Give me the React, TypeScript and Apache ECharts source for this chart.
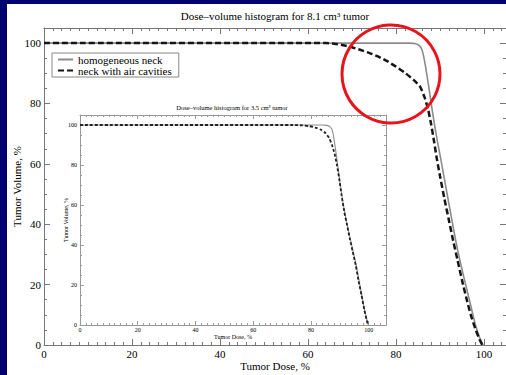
import React, { useEffect, useRef } from "react";
import * as echarts from "echarts";

const mainTitle = "Dose–volume histogram for 8.1 cm³ tumor";
const insetTitle = "Dose–volume histogram for 3.5 cm³ tumor";
const seriesNames = ["homogeneous neck", "neck with air cavities"];
const insetNames = ["homogeneous neck (3.5 cm³)", "neck with air cavities (3.5 cm³)"];
const xAxisName = "Tumor Dose, %";
const yAxisName = "Tumor Volume, %";
const tickLabels = [0, 20, 40, 60, 80, 100];

// Main plot (8.1 cm³ tumor)
const mainDoseHomog = [0, 83, 84, 84.8, 85.4, 85.9, 86.3, 86.8, 87.4, 88, 88.7, 89.4, 90, 91, 92, 93, 94, 95, 96, 97, 98, 99, 99.8];
const mainVolHomog = [100, 100, 99.9, 99.6, 99, 97.8, 95.5, 91.5, 86, 80, 73.5, 67.5, 63, 55, 47, 39, 31.5, 25, 19, 13, 7, 2.5, 0];
const mainDoseAir = [0, 64, 66, 68, 70, 72, 74, 76, 78, 80, 82, 84, 85.5, 86.5, 87.3, 88, 88.7, 89.3, 90, 91, 92, 93, 94, 95, 96, 97, 98, 99, 99.6];
const mainVolAir = [100, 100, 99.8, 99.3, 98.6, 97.7, 96.7, 95.5, 94, 92.2, 90.2, 87.8, 85.5, 82, 78, 73, 67, 61.5, 56, 48.5, 41.5, 34.5, 28, 21.5, 15.5, 10, 5.5, 1.8, 0];

// Inset plot (3.5 cm³ tumor)
const insetDoseHomog = [0, 84, 85.5, 86.5, 87.2, 87.7, 88.2, 88.8, 89.4, 90.1, 90.9, 91.8, 92.8, 93.8, 94.8, 95.8, 96.7, 97.6, 98.6, 99.4, 99.9];
const insetVolHomog = [100, 100, 99.8, 99.2, 98, 95.5, 91, 85, 78.5, 71, 63, 55.5, 48.5, 42, 35.5, 29, 22, 15, 7.5, 2.5, 0];
const insetDoseAir = [0, 74, 77, 79.5, 81.5, 83.5, 85, 86.3, 87.3, 88.2, 89, 89.8, 90.6, 91.5, 92.5, 93.5, 94.5, 95.5, 96.5, 97.5, 98.5, 99.3, 99.8];
const insetVolAir = [100, 100, 99.8, 99.4, 98.7, 97.6, 96, 93.5, 90, 85.5, 80, 73, 65, 57, 50, 43, 36.5, 30, 22, 15, 7.5, 2.5, 0];

const SERIF = '"Liberation Serif", "DejaVu Serif", serif';

const pairs = (xs: number[], ys: number[]) => xs.map((x, i) => [x, ys[i]]);

interface AxOpts {
  max: number;
  major: number;
  minor: number;
  minorInterval: number;
  color: string;
  fontSize: number;
  margin: number;
  nameSize: number;
  nameGap: number;
}

function sideAxes(dim: "x" | "y", gridIndex: number, o: AxOpts) {
  const pos = dim === "x" ? ["bottom", "top"] : ["left", "right"];
  const base = {
    type: "value",
    gridIndex,
    min: 0,
    max: o.max,
    splitLine: { show: false },
    axisPointer: { show: false },
  };
  const fmt = (v: number) => (tickLabels.indexOf(v) >= 0 ? String(v) : "");
  const line = { show: true, onZero: false, lineStyle: { color: o.color, width: 1 } };
  const noLine = { show: false, onZero: false };
  const majorTick = { show: true, inside: true, length: o.major, lineStyle: { color: o.color, width: 1 } };
  const minorTick = { show: true, inside: true, length: o.minor, lineStyle: { color: o.color, width: 1 } };
  return [
    {
      ...base,
      position: pos[0],
      interval: 20,
      axisLine: line,
      axisTick: majorTick,
      axisLabel: { show: true, margin: o.margin, fontSize: o.fontSize, fontFamily: SERIF, color: "#000", formatter: fmt },
      name: dim === "x" ? xAxisName : yAxisName,
      nameLocation: "middle",
      nameGap: o.nameGap,
      nameMoveOverlap: false,
      nameTextStyle: { fontSize: o.nameSize, fontFamily: SERIF, color: "#000" },
    },
    { ...base, position: pos[0], interval: o.minorInterval, axisLine: noLine, axisTick: minorTick, axisLabel: { show: false } },
    { ...base, position: pos[1], interval: 20, axisLine: line, axisTick: majorTick, axisLabel: { show: false } },
    { ...base, position: pos[1], interval: o.minorInterval, axisLine: noLine, axisTick: minorTick, axisLabel: { show: false } },
  ];
}

export default function App() {
  const ref = useRef<HTMLDivElement>(null);

  useEffect(() => {
    if (!ref.current) return;
    const chart = echarts.init(ref.current, undefined, { renderer: "svg" });

    const xAxis = [
      ...sideAxes("x", 0, { max: 105, major: 6, minor: 3, minorInterval: 2, color: "#777", fontSize: 11, margin: 3, nameSize: 11, nameGap: 15 }),
      ...sideAxes("x", 1, { max: 106, major: 4, minor: 2, minorInterval: 2, color: "#999", fontSize: 6, margin: 2, nameSize: 6, nameGap: 9 }),
    ];
    const yAxis = [
      ...sideAxes("y", 0, { max: 105, major: 6, minor: 3, minorInterval: 5, color: "#777", fontSize: 11, margin: 3, nameSize: 11, nameGap: 22 }),
      ...sideAxes("y", 1, { max: 105, major: 4, minor: 2, minorInterval: 5, color: "#999", fontSize: 6, margin: 3, nameSize: 6, nameGap: 11 }),
    ];

    const option: any = {
      animation: false,
      backgroundColor: "transparent",
      grid: [
        { left: 44, top: 28, width: 462, height: 317, containLabel: false, outerBoundsMode: "none", show: false },
        { left: 80, top: 115, width: 306, height: 210, containLabel: false, outerBoundsMode: "none", show: true, backgroundColor: "#fff", borderWidth: 0 },
      ],
      xAxis,
      yAxis,
      legend: {
        data: seriesNames,
        orient: "vertical",
        left: 52,
        top: 53,
        padding: [1, 7, 1, 5],
        itemGap: 0,
        itemWidth: 15,
        itemHeight: 10,
        borderColor: "#888",
        borderWidth: 1,
        backgroundColor: "#fff",
        selectedMode: false,
        itemStyle: { color: "rgba(0,0,0,0)", opacity: 0, borderWidth: 0 },
        textStyle: { fontSize: 11, fontFamily: SERIF, color: "#000" },
      },
      series: [
        {
          name: seriesNames[0],
          type: "line",
          xAxisIndex: 0,
          yAxisIndex: 0,
          data: pairs(mainDoseHomog, mainVolHomog),
          symbol: "none",
          smooth: 0.2,
          lineStyle: { color: "#8c8c8c", width: 1.6, type: "solid" },
          itemStyle: { color: "#8c8c8c" },
          z: 3,
        },
        {
          name: seriesNames[1],
          type: "line",
          xAxisIndex: 0,
          yAxisIndex: 0,
          data: pairs(mainDoseAir, mainVolAir),
          symbol: "none",
          smooth: 0.2,
          lineStyle: { color: "#151515", width: 2.5, type: [6, 3] },
          itemStyle: { color: "#151515" },
          z: 4,
        },
        {
          name: insetNames[0],
          type: "line",
          xAxisIndex: 4,
          yAxisIndex: 4,
          data: pairs(insetDoseHomog, insetVolHomog),
          symbol: "none",
          smooth: 0.2,
          lineStyle: { color: "#8c8c8c", width: 1.1, type: "solid" },
          z: 3,
        },
        {
          name: insetNames[1],
          type: "line",
          xAxisIndex: 4,
          yAxisIndex: 4,
          data: pairs(insetDoseAir, insetVolAir),
          symbol: "none",
          smooth: 0.2,
          lineStyle: { color: "#222", width: 1.8, type: [3, 2] },
          z: 4,
        },
      ],
      graphic: [
        {
          type: "text",
          x: 275,
          y: 16,
          style: { text: mainTitle, fontSize: 11, fontFamily: SERIF, fill: "#000", textAlign: "center", textVerticalAlign: "middle" },
        },
        {
          type: "text",
          x: 232,
          y: 107,
          style: { text: insetTitle, fontSize: 6.5, fontFamily: SERIF, fill: "#000", textAlign: "center", textVerticalAlign: "middle" },
        },
        {
          type: "circle",
          z: 100,
          shape: { cx: 391, cy: 74, r: 49 },
          style: { fill: "none", stroke: "#e8141b", lineWidth: 3 },
        },
      ],
    };

    chart.setOption(option);
    return () => chart.dispose();
  }, []);

  return (
    <div style={{ position: "fixed", left: 0, top: 0, width: 506, height: 375, background: "#000070", overflow: "hidden" }}>
      <div style={{ position: "absolute", left: 7, top: 4, width: 499, height: 371, background: "#fff" }} />
      <div ref={ref} style={{ position: "absolute", left: 0, top: 0, width: 506, height: 375 }} />
    </div>
  );
}
